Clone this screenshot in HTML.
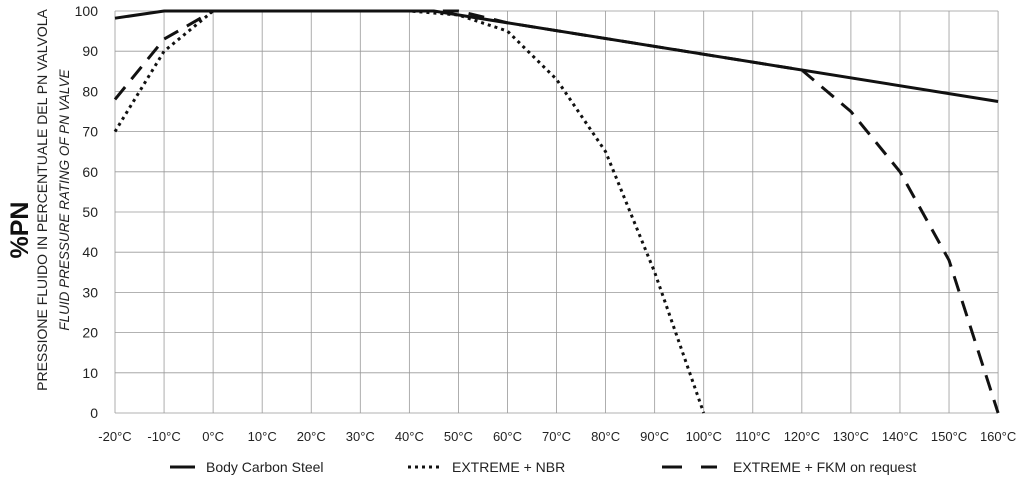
<!DOCTYPE html>
<html><head><meta charset="utf-8"><style>
html,body{margin:0;padding:0;background:#fff;}
svg{display:block;font-family:"Liberation Sans","DejaVu Sans",sans-serif;}
</style></head><body>
<svg id="c" width="1024" height="485" viewBox="0 0 1024 485" xmlns="http://www.w3.org/2000/svg"></svg>
<script>
const s=document.getElementById('c');
const X=t=>115+(t+20)*4.906, Y=v=>413-v*4.02;
let h='';
for(let i=0;i<=18;i++){const x=X(-20+i*10);h+=`<line x1="${x}" y1="${Y(100)}" x2="${x}" y2="${Y(0)}" stroke="#999" stroke-width="0.8"/>`;
h+=`<text x="${x}" y="441" font-size="13" text-anchor="middle" fill="#222">${-20+i*10}°C</text>`;}
for(let v=0;v<=100;v+=10){const y=Y(v);h+=`<line x1="${X(-20)}" y1="${y}" x2="${X(160)}" y2="${y}" stroke="#999" stroke-width="0.8"/>`;
h+=`<text x="98" y="${y+5}" font-size="14" text-anchor="end" fill="#222">${v}</text>`;}
const P=a=>a.map(p=>X(p[0]).toFixed(1)+','+Y(p[1]).toFixed(1)).join(' ');
const steel=[[-20,98.2],[-10,100],[45,100],[160,77.5]];
const sl=t=>100-(t-45)*22.5/115;
const nbr=[[-20,70],[-10,90],[0,100],[40,100],[50,99],[60,95],[70,83],[80,65],[90,35],[100,0]];
const fkm=[[-20,78],[-10,93],[0,100],[50,100],[60,sl(60)],[120,sl(120)],[130,75],[140,60],[150,38],[160,0]];
h+=`<polyline points="${P(fkm)}" fill="none" stroke="#111" stroke-width="3" stroke-dasharray="16,10"/>`;
h+=`<polyline points="${P(nbr)}" fill="none" stroke="#111" stroke-width="3" stroke-dasharray="3,4"/>`;
h+=`<polyline points="${P(steel)}" fill="none" stroke="#111" stroke-width="3"/>`;
h+=`<text transform="translate(28,230) rotate(-90)" font-size="25" font-weight="bold" text-anchor="middle" fill="#111">%PN</text>`;
h+=`<text transform="translate(47,200) rotate(-90)" font-size="14" text-anchor="middle" fill="#222">PRESSIONE FLUIDO IN PERCENTUALE DEL PN VALVOLA</text>`;
h+=`<text transform="translate(69,200) rotate(-90)" font-size="13.5" font-style="italic" text-anchor="middle" fill="#222">FLUID PRESSURE RATING OF PN VALVE</text>`;
h+=`<line x1="170" y1="467" x2="195" y2="467" stroke="#111" stroke-width="3"/><text x="206" y="472" font-size="14" fill="#222">Body Carbon Steel</text>`;
h+=`<line x1="408" y1="467" x2="440" y2="467" stroke="#111" stroke-width="3" stroke-dasharray="3,4"/><text x="452" y="472" font-size="14" fill="#222">EXTREME + NBR</text>`;
h+=`<line x1="662" y1="467" x2="682" y2="467" stroke="#111" stroke-width="3"/><line x1="701" y1="467" x2="717" y2="467" stroke="#111" stroke-width="3"/><text x="733" y="472" font-size="14" fill="#222">EXTREME + FKM on request</text>`;
s.innerHTML=h;
</script>
</body></html>
